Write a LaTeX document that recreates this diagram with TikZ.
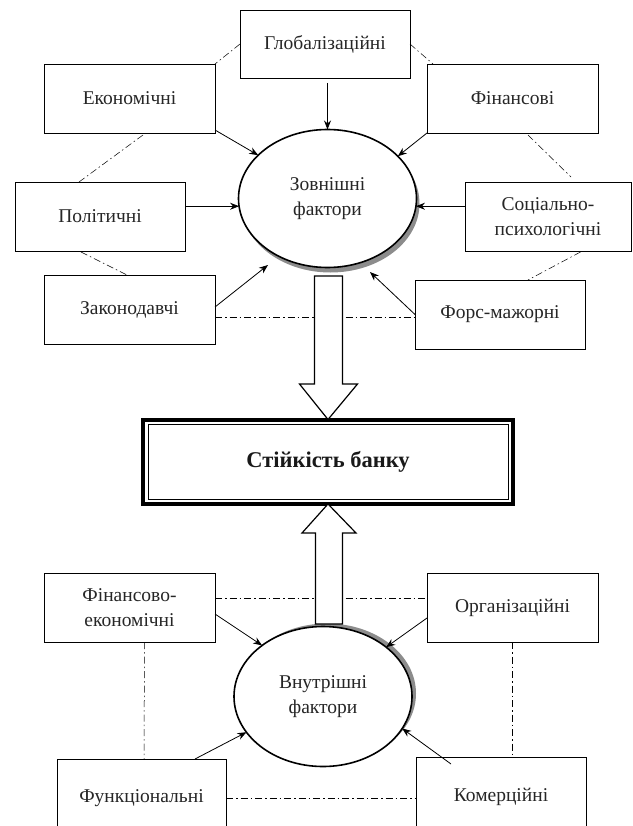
\documentclass[tikz,border=0pt]{standalone}
\usepackage{fontspec}
\setmainfont{Liberation Serif}
\usetikzlibrary{arrows.meta,shapes.geometric}
\begin{document}
\begin{tikzpicture}[x=1pt,y=-1pt,
  txt/.style={font=\fontsize{19.5}{24.5}\selectfont, text=black!85},
  box/.style={txt, draw, line width=0.7pt, fill=white, minimum width=171pt, minimum height=69pt, inner sep=2pt, outer sep=0pt, align=center},
  ell/.style={txt, ellipse, draw, line width=1.6pt, fill=white, minimum width=178pt, minimum height=138pt, inner sep=0pt, outer sep=0pt, align=center},
  shad/.style={ellipse, fill=black!45, minimum width=178pt, minimum height=138pt, inner sep=0pt, outer sep=0pt},
  conn/.style={line width=0.8pt, -{Stealth[length=9pt,width=7pt]}},
  dd/.style={line width=0.5pt, dash pattern=on 7pt off 3pt on 1.5pt off 3pt},
  big/.style={draw, line width=1.2pt, fill=white, line join=miter}
]
\useasboundingbox (0,0) rectangle (632,826);

% ---------- boxes ----------
\node[box, minimum width=170pt, minimum height=68pt] (glob) at (325,44) {Глобалізаційні};
\node[box] (econ) at (129.5,98.5) {Економічні};
\node[box] (fin)  at (512.5,98.5) {Фінансові};
\node[box, minimum width=170pt] (pol) at (100,216.5) {Політичні};
\node[box, minimum width=166pt] (soc) at (548,216.5) {Соціально-\\психологічні};
\node[box] (zak)  at (129.5,309.5) {Законодавчі};
\node[box, minimum width=170pt] (fors) at (500,314.5) {Форс-мажорні};
\node[box] (finek) at (129.5,607.5) {Фінансово-\\економічні};
\node[box] (org)   at (512.5,607.5) {Організаційні};
\node[box, minimum width=169pt, minimum height=78pt] (func) at (141.5,798) {Функціональні};
\node[box, minimum width=170pt, minimum height=80pt] (kom)  at (501,797) {Комерційні};

% ---------- dash-dot links ----------
\draw[dd] (glob.west) -- (econ.north east);
\draw[dd] (glob.east) -- ([shift={(6,0)}]fin.north west);
\draw[dd] ([shift={(13.5,2)}]econ.south) -- ([shift={(-21,0)}]pol.north);
\draw[dd] ([shift={(15.5,2)}]fin.south) -- ([shift={(23,-5)}]soc.north);
\draw[dd] ([shift={(-19,1)}]pol.south) -- ([shift={(-2.5,0)}]zak.north);
\draw[dd] ([shift={(32.5,1)}]soc.south) -- ([shift={(28,0)}]fors.north);
\draw[dd] ([shift={(0,7.5)}]zak.east) -- ([shift={(0,2.5)}]fors.west);
\draw[dd] ([shift={(0,-9.5)}]finek.east) -- ([shift={(0,-9.5)}]org.west);
\draw[dd] ([shift={(15,0)}]finek.south) -- ([shift={(2.5,0)}]func.north);
\draw[dd] (org.south) -- (org.south |- kom.north);
\draw[dd] (func.east) -- (func.east -| kom.west);

% redraw box frames on top of the dash-dot ends
\foreach \n in {glob,econ,fin,pol,soc,zak,fors,finek,org,func,kom}{
  \draw[line width=0.7pt] (\n.north west) rectangle (\n.south east);
}

% ---------- ellipses ----------
\node[shad] (zovsh) at (330.5,203.5) {};
\node[ell] (zov) at (327.5,198.5) {Зовнішні\\фактори};
\node[shad, minimum height=140pt] (vnush) at (327,693.5) {};
\node[ell, minimum height=140pt] (vnu) at (323,696.5) {Внутрішні\\фактори};

% ---------- central box ----------
\node[draw, line width=4pt, outer sep=0pt, minimum width=370pt, minimum height=84.5pt,
      font=\fontsize{22.5}{26}\selectfont\bfseries, text=black!90] (bank) at (328,461.75) {Стійкість банку};
\draw[line width=0.8pt] ([shift={(5,5)}]bank.north west) rectangle ([shift={(-5,-5)}]bank.south east);

% ---------- big arrows ----------
\draw[big] (314.5,276) -- (342.5,276) -- (342.5,384) -- (357.5,384) -- (bank.north) -- (299.5,384) -- (314.5,384) -- cycle;
\draw[big] (315.5,624) -- (342.5,624) -- (342.5,533) -- (356,533) -- (bank.south) -- (302,533) -- (315.5,533) -- cycle;

% ---------- arrows to "Зовнішні фактори" ----------
\coordinate (gs) at ([shift={(0,5)}]zov.north |- glob.south);
\draw[conn] (gs) -- (zov.north);
\draw[conn] ([shift={(0,-3)}]econ.south east) -- (zov.148);
\draw[conn] (fin.south west) -- (zov.31);
\draw[conn] (pol.east |- zov.185) -- (zov.185);
\draw[conn] (soc.west |- zov.355) -- (zov.355);
\coordinate (zl) at ([shift={(-59.5,66.5)}]zov.center);
\coordinate (zr) at ([shift={(42.5,73.5)}]zov.center);
\draw[conn] ([shift={(0,-2.5)}]zak.east) -- (zl);
\draw[conn] (fors.west) -- (zr);

% ---------- arrows to "Внутрішні фактори" ----------
\draw[conn] ([shift={(0,6.5)}]finek.east) -- (vnu.140);
\draw[conn] ([shift={(0,10.5)}]org.west) -- (vnu.38);
\draw[conn] ([shift={(53.5,0)}]func.north) -- (vnu.205);
\draw[conn] ([shift={(-50,7)}]kom.north) -- (vnu.338);
\end{tikzpicture}
\end{document}
